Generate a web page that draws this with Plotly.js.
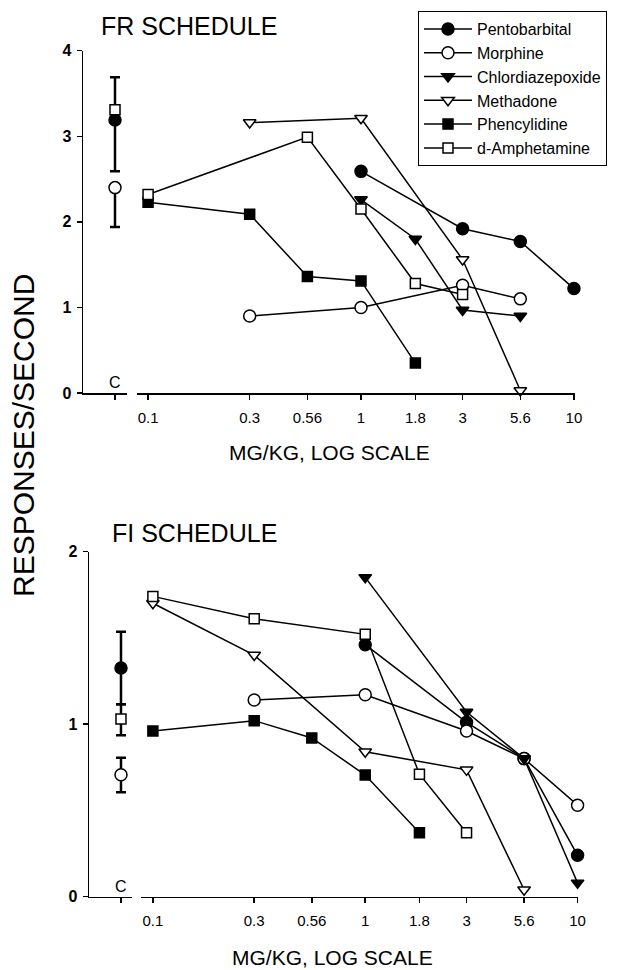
<!DOCTYPE html>
<html><head><meta charset="utf-8">
<script src="https://cdn.plot.ly/plotly-3.0.1.min.js"></script>
<style>html,body{margin:0;padding:0;background:#fff}</style>
</head><body><div id="chart" style="width:619px;height:970px"></div>
<script>
// ---- names / styles per drug ----
const drugNames = ['Pentobarbital','Morphine','Chlordiazepoxide','Methadone','Phencylidine','d-Amphetamine'];
const drugSymbols = ['circle','circle','triangle-down','triangle-down','square','square'];
const drugFills = ['black','white','black','white','black','white'];
const drugSizes = [12,12,11,11,10,10];

// ---- dose tick labels ----
const doseTicks = [0.1,0.3,0.56,1,1.8,3,5.6,10];
const doseTickText = ['0.1','0.3','0.56','1','1.8','3','5.6','10'];
const controlCategory = ['C'];

// ---- FR schedule (top) ----
const frPentoDose = [1,3,5.6,10];        const frPentoRate = [2.59,1.92,1.77,1.22];
const frMorphDose = [0.3,1,3,5.6];       const frMorphRate = [0.90,1.00,1.26,1.10];
const frChlorDose = [1,1.8,3,5.6];       const frChlorRate = [2.26,1.80,0.97,0.90];
const frMethaDose = [0.3,1,3,5.6];       const frMethaRate = [3.16,3.21,1.56,0.03];
const frPhencDose = [0.1,0.3,0.56,1,1.8]; const frPhencRate = [2.23,2.09,1.36,1.31,0.35];
const frAmphDose = [0.1,0.56,1,1.8,3];   const frAmphRate = [2.32,2.99,2.15,1.28,1.15];
// FR control values (index into drugNames) with error bars
const frCtrlDrug = [0,1,5];
const frCtrlRate = [3.19,2.40,3.31];
const frCtrlErrUp = [0.50,0,0];
const frCtrlErrDown = [0.60,0.46,0];

// ---- FI schedule (bottom) ----
const fiPentoDose = [1,3,5.6,10];          const fiPentoRate = [1.46,1.01,0.80,0.24];
const fiMorphDose = [0.3,1,3,5.6,10];      const fiMorphRate = [1.14,1.17,0.96,0.80,0.53];
const fiChlorDose = [1,3,5.6,10];          const fiChlorRate = [1.85,1.07,0.80,0.08];
const fiMethaDose = [0.1,0.3,1,3,5.6];     const fiMethaRate = [1.70,1.40,0.84,0.735,0.04];
const fiPhencDose = [0.1,0.3,0.56,1,1.8];  const fiPhencRate = [0.96,1.02,0.92,0.705,0.37];
const fiAmphDose = [0.1,0.3,1,1.8,3];      const fiAmphRate = [1.74,1.61,1.52,0.71,0.37];
const fiCtrlDrug = [0,5,1];
const fiCtrlRate = [1.325,1.03,0.707];
const fiCtrlErrUp = [0.21,0.085,0.098];
const fiCtrlErrDown = [0.21,0.094,0.102];

const FONT = 'Arial, "Liberation Sans", Helvetica, sans-serif';
const W = 619, H = 970;
const px = v => v / W;
const py = v => (H - v) / H;

function drugMarker(i){
  return {symbol: drugSymbols[i], size: drugSizes[i], color: drugFills[i], line:{color:'black', width:1.5}};
}

const traces = [];
const frSeries = [[frPentoDose,frPentoRate],[frMorphDose,frMorphRate],[frChlorDose,frChlorRate],
                  [frMethaDose,frMethaRate],[frPhencDose,frPhencRate],[frAmphDose,frAmphRate]];
const fiSeries = [[fiPentoDose,fiPentoRate],[fiMorphDose,fiMorphRate],[fiChlorDose,fiChlorRate],
                  [fiMethaDose,fiMethaRate],[fiPhencDose,fiPhencRate],[fiAmphDose,fiAmphRate]];

frSeries.forEach((s,i)=>{
  traces.push({x:s[0], y:s[1], xaxis:'x2', yaxis:'y', type:'scatter', mode:'lines+markers',
    name: drugNames[i], showlegend:true,
    line:{color:'black', width:1.5}, marker: drugMarker(i), cliponaxis:false});
});
fiSeries.forEach((s,i)=>{
  traces.push({x:s[0], y:s[1], xaxis:'x4', yaxis:'y2', type:'scatter', mode:'lines+markers',
    name: drugNames[i], showlegend:false,
    line:{color:'black', width:1.5}, marker: drugMarker(i), cliponaxis:false});
});
frCtrlDrug.forEach((d,k)=>{
  traces.push({x:controlCategory, y:[frCtrlRate[k]], xaxis:'x', yaxis:'y', type:'scatter', mode:'markers',
    name: drugNames[d], showlegend:false, marker: drugMarker(d), cliponaxis:false,
    error_y:{type:'data', symmetric:false, array:[frCtrlErrUp[k]], arrayminus:[frCtrlErrDown[k]],
      visible: (frCtrlErrUp[k]+frCtrlErrDown[k])>0, color:'black', thickness:2.5, width:5}});
});
fiCtrlDrug.forEach((d,k)=>{
  traces.push({x:controlCategory, y:[fiCtrlRate[k]], xaxis:'x3', yaxis:'y2', type:'scatter', mode:'markers',
    name: drugNames[d], showlegend:false, marker: drugMarker(d), cliponaxis:false,
    error_y:{type:'data', symmetric:false, array:[fiCtrlErrUp[k]], arrayminus:[fiCtrlErrDown[k]],
      color:'black', thickness:2.5, width:5}});
});

const axLine = {showline:true, linecolor:'black', linewidth:1.5, showgrid:false, zeroline:false,
  ticks:'outside', ticklen:5, tickcolor:'black', tickwidth:1.5};

const layout = {
  width:W, height:H, margin:{l:0,r:0,t:0,b:0},
  paper_bgcolor:'white', plot_bgcolor:'rgba(0,0,0,0)',
  font:{family:FONT, color:'black'},
  showlegend:true,
  legend:{x:px(418), y:py(11), xanchor:'left', yanchor:'top', bgcolor:'white', tracegroupgap:0,
    bordercolor:'black', borderwidth:1, font:{size:16, family:FONT, color:'black'}, itemwidth:48},
  // top control axis
  xaxis:Object.assign({}, axLine, {domain:[px(83),px(127)], anchor:'y', type:'category',
    categoryorder:'array', categoryarray:controlCategory, range:[-0.8,0.3], showticklabels:false}),
  // top dose axis
  xaxis2:Object.assign({}, axLine, {domain:[px(137),px(575)], anchor:'y', type:'log',
    range:[-1.052,1.005], tickvals:doseTicks, ticktext:doseTickText, tickfont:{size:15}, ticklabelstandoff:5}),
  yaxis:Object.assign({}, axLine, {domain:[py(393),py(50.7)], anchor:'x', range:[0,4],
    tickvals:[0,1,2,3,4], tickfont:{size:16, weight:'bold'}, ticklabelstandoff:2}),
  // bottom control axis
  xaxis3:Object.assign({}, axLine, {domain:[px(89),px(132)], anchor:'y2', type:'category',
    categoryorder:'array', categoryarray:controlCategory, range:[-0.744*1.1,0.256*1.1], showticklabels:false}),
  xaxis4:Object.assign({}, axLine, {domain:[px(141),px(578)], anchor:'y2', type:'log',
    range:[-1.056,1.002], tickvals:doseTicks, ticktext:doseTickText, tickfont:{size:15}, ticklabelstandoff:5}),
  yaxis2:Object.assign({}, axLine, {domain:[py(896.7),py(551.5)], anchor:'x3', range:[0,2],
    tickvals:[0,1,2], tickfont:{size:16, weight:'bold'}, ticklabelstandoff:2}),
  annotations:[
    {text:'C', xref:'x', yref:'y', x:0, y:0, xanchor:'center', yanchor:'bottom', yshift:0,
      showarrow:false, font:{size:16}},
    {text:'C', xref:'x3', yref:'y2', x:0, y:0, xanchor:'center', yanchor:'bottom', yshift:0,
      showarrow:false, font:{size:16}},
    {text:'FR SCHEDULE', xref:'paper', yref:'paper', x:px(189), y:py(26), xanchor:'center', yanchor:'middle',
      showarrow:false, font:{size:25}},
    {text:'FI SCHEDULE', xref:'paper', yref:'paper', x:px(194), y:py(532.5), xanchor:'center', yanchor:'middle',
      showarrow:false, font:{size:25}},
    {text:'MG/KG, LOG SCALE', xref:'paper', yref:'paper', x:px(329), y:py(452), xanchor:'center', yanchor:'middle',
      showarrow:false, font:{size:21}},
    {text:'MG/KG, LOG SCALE', xref:'paper', yref:'paper', x:px(333), y:py(957.5), xanchor:'center', yanchor:'middle',
      showarrow:false, font:{size:21}},
    {text:'RESPONSES/SECOND', xref:'paper', yref:'paper', x:px(24), y:py(436), xanchor:'center', yanchor:'middle',
      textangle:-90, showarrow:false, font:{size:30}}
  ]
};

Plotly.newPlot('chart', traces, layout, {displayModeBar:false, staticPlot:true});
</script>
</body></html>
